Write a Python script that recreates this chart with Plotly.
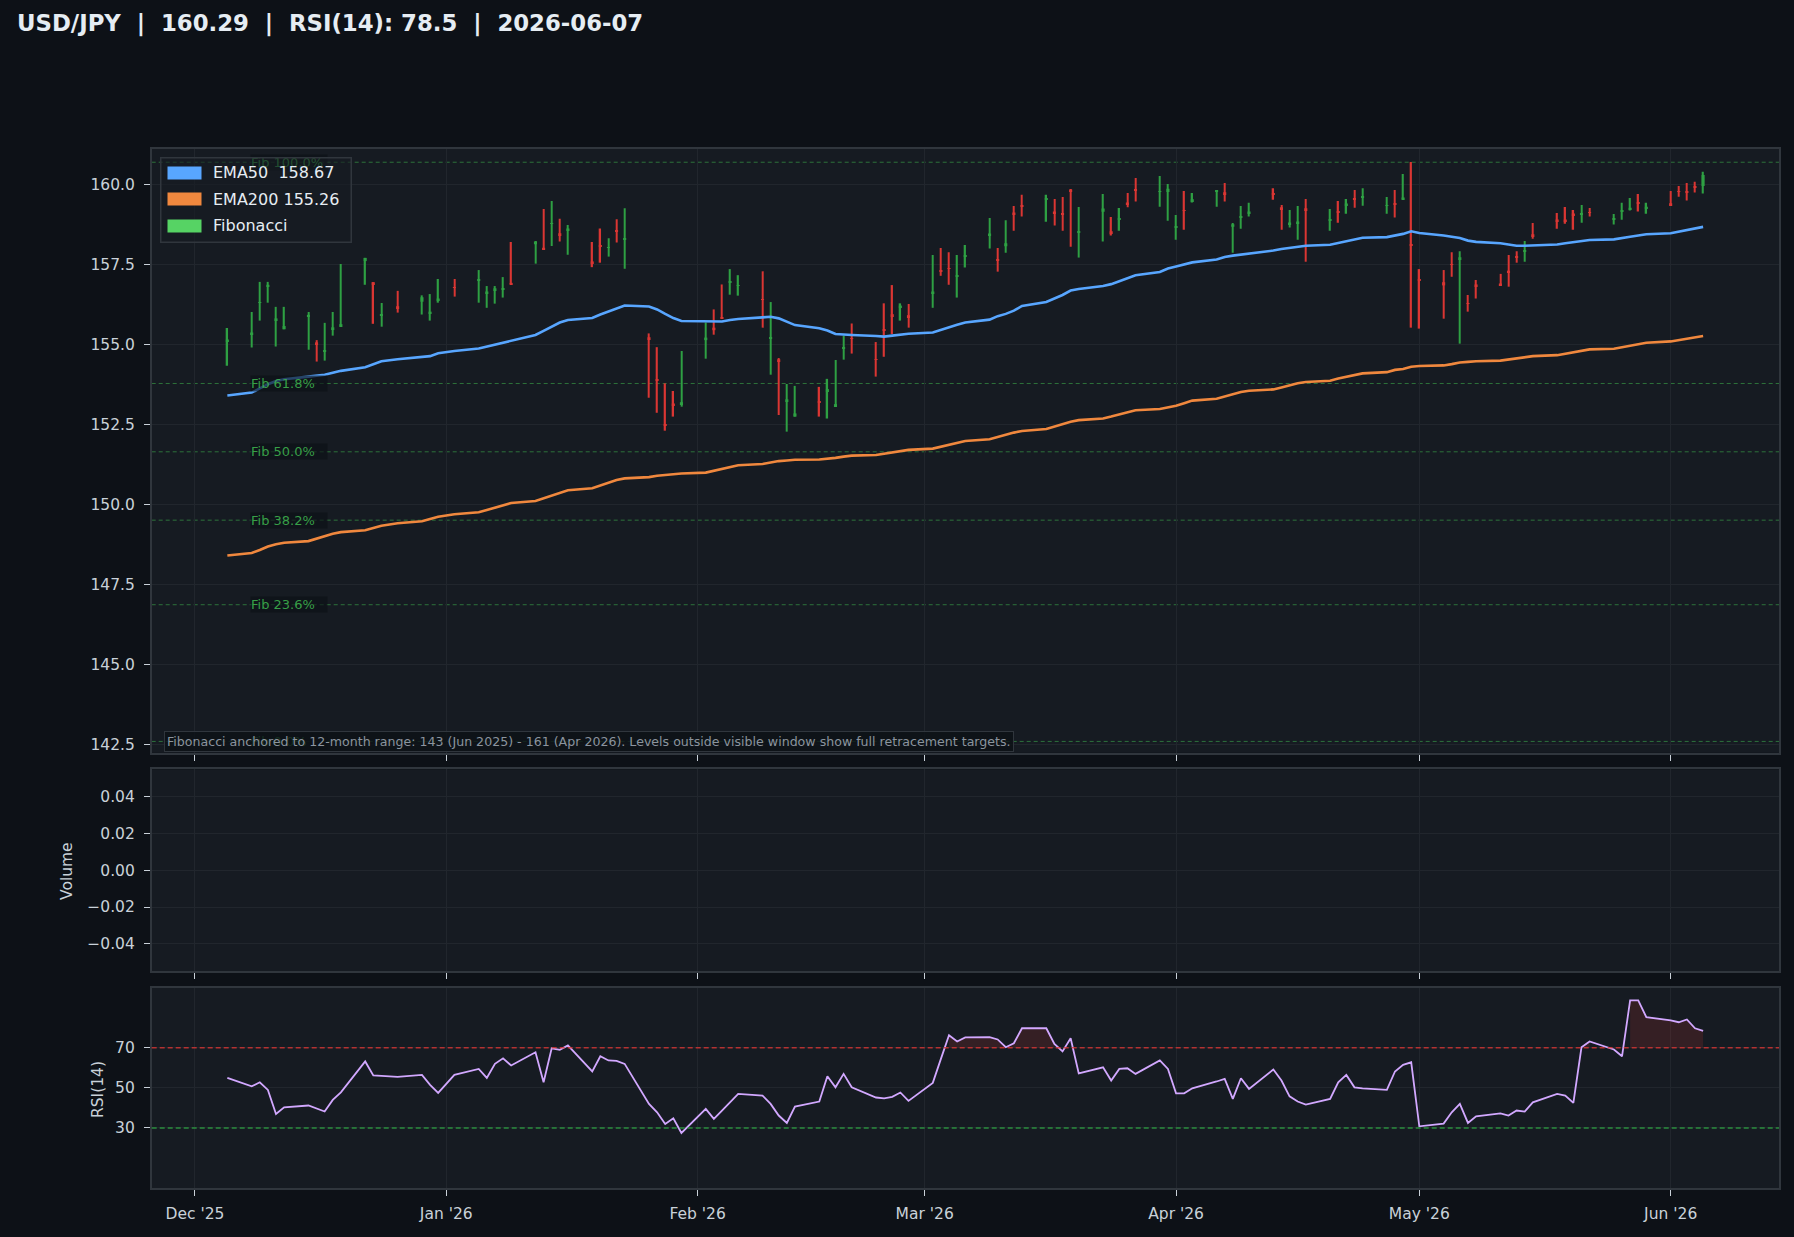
import pandas as pd
import plotly.graph_objects as go
from plotly.subplots import make_subplots

W, H = 1794, 1237
BG = "#0d1117"; PANEL = "#161b22"; GRID = "#21262d"; SPINE = "#30363d"; TXT = "#c9d1d9"
GREEN = "#2ea043"; RED = "#da3633"; BLUE = "#58a6ff"; ORANGE = "#f0883e"
FIBC = "#56d364"; PURPLE = "#d2a8ff"
FONT = "DejaVu Sans"

# ---------------- data ----------------
holidays = ["2025-12-25", "2026-01-01"]
dates = pd.bdate_range("2025-12-05", "2026-06-05")
dates = dates[~dates.isin(pd.to_datetime(holidays))]

open_ = [155.09, 155.31, 156.30, 156.80, 155.75, 155.47, 155.86, 155.06, 154.76, 155.47, 155.57, 157.60, 156.94, 155.91, 156.19, 156.33, 155.96, 156.37,
         156.78, 156.98, 156.59, 156.69, 156.70, 156.92, 158.13, 158.02, 158.76, 158.47, 158.56, 157.59, 158.09, 158.02, 158.56, 158.29, 155.22, 153.90, 152.51, 153.15, 153.13,
         155.13, 155.52, 155.84, 156.94, 156.83, 156.41, 155.18, 154.53, 153.22, 152.74, 153.21, 153.54, 153.07, 154.88, 155.19, 154.54, 155.46, 155.94, 156.15, 155.91,
         156.59, 157.32, 157.38, 157.12, 157.74, 158.40, 157.65, 158.06, 159.12, 159.34, 159.51, 159.15, 159.09, 159.84, 158.49, 159.14, 158.53, 158.90, 159.43, 159.84, 159.77, 159.76,
         158.65, 159.19, 159.47, 159.76, 159.75, 158.67, 158.96, 159.09, 159.71, 159.28, 158.75, 158.78, 159.25, 158.88, 159.15, 159.34, 159.56, 159.60, 159.33, 159.40, 159.53, 158.12,
         157.04, 156.94, 157.50, 157.66, 156.29, 156.87, 156.90, 157.30, 157.74, 157.90, 158.44, 158.90, 158.90, 159.09, 159.07, 159.13, 158.90, 159.15, 159.21, 159.43, 159.24,
         159.41, 159.79, 159.77, 159.92, 159.95]
high = [155.51, 156.01, 156.95, 156.95, 156.17, 156.17, 156.01, 155.13, 155.67, 156.01, 157.51, 157.70, 156.94, 156.29, 156.67, 156.53, 156.57, 157.04,
        157.04, 157.32, 156.82, 156.82, 157.10, 158.20, 158.23, 159.23, 159.48, 158.92, 158.73, 158.20, 158.62, 158.31, 158.91, 159.25, 155.34, 154.91, 153.78, 153.54, 154.79,
        155.68, 156.09, 156.87, 157.35, 157.16, 157.28, 156.32, 154.57, 153.76, 153.70, 153.67, 153.92, 154.51, 155.27, 155.65, 155.07, 156.28, 156.85, 156.28, 156.26,
        157.79, 158.01, 157.88, 157.79, 158.10, 158.95, 158.01, 158.88, 159.32, 159.67, 159.67, 159.54, 159.60, 159.85, 159.29, 159.70, 158.98, 159.26, 159.73, 160.20, 160.26, 160.01,
        159.04, 159.79, 159.73, 159.82, 160.04, 158.79, 159.32, 159.42, 159.88, 159.35, 159.20, 159.32, 159.54, 159.23, 159.48, 159.54, 159.82, 159.88, 159.60, 159.82, 160.32, 160.70,
        157.35, 157.32, 157.88, 157.91, 156.54, 157.01, 157.20, 157.79, 157.91, 158.23, 158.79, 159.10, 159.29, 159.20, 159.35, 159.26, 159.07, 159.42, 159.57, 159.70, 159.42,
        159.79, 159.95, 160.04, 160.08, 160.39]
low = [154.33, 154.90, 155.74, 156.30, 154.93, 155.47, 154.83, 154.46, 154.49, 155.27, 155.56, 156.86, 155.64, 155.55, 155.99, 155.93, 155.74, 156.30,
       156.49, 156.30, 156.14, 156.27, 156.46, 156.88, 157.52, 157.97, 158.07, 158.21, 157.80, 157.41, 157.55, 157.74, 158.18, 157.36, 153.33, 152.86, 152.30, 152.74, 153.05,
       154.55, 155.30, 155.80, 156.55, 156.52, 155.52, 154.05, 152.79, 152.27, 152.74, 152.74, 152.68, 153.05, 154.52, 154.71, 153.99, 154.61, 155.32, 155.74, 155.52,
       156.14, 157.14, 156.86, 156.46, 157.40, 157.99, 157.27, 157.86, 158.55, 158.99, 158.83, 158.71, 158.55, 158.05, 157.71, 158.21, 158.40, 158.55, 159.28, 159.46, 159.30, 158.86,
       158.27, 158.58, 159.43, 159.30, 159.46, 157.86, 158.61, 158.99, 159.52, 158.58, 158.65, 158.27, 157.58, 158.55, 158.80, 159.08, 159.27, 159.33, 159.08, 158.96, 159.53, 155.52,
       155.49, 155.80, 157.11, 155.02, 156.02, 156.43, 156.83, 156.80, 157.55, 157.58, 158.30, 158.61, 158.77, 158.58, 158.80, 158.99, 158.74, 158.89, 159.18, 159.15, 159.08,
       159.36, 159.61, 159.49, 159.74, 159.71]
close = [155.15, 155.37, 156.32, 156.86, 155.81, 155.57, 155.92, 155.00, 154.82, 155.53, 155.63, 157.70, 156.88, 155.93, 156.13, 156.47, 156.02, 156.43,
         156.76, 157.04, 156.65, 156.75, 156.76, 156.88, 158.21, 157.97, 158.78, 158.41, 158.62, 157.53, 158.07, 158.04, 158.54, 158.31, 155.16, 153.88, 152.45, 153.09, 153.19,
         155.21, 155.44, 155.80, 156.96, 156.85, 156.39, 155.20, 154.47, 153.28, 152.84, 153.19, 153.60, 153.13, 154.90, 155.17, 154.52, 155.44, 155.88, 156.21, 155.85,
         156.65, 157.26, 157.36, 157.14, 157.76, 158.46, 157.63, 158.16, 159.06, 159.32, 159.57, 159.09, 159.07, 159.78, 158.51, 159.24, 158.47, 158.92, 159.37, 159.82, 159.79, 159.86,
         158.67, 159.17, 159.53, 159.82, 159.69, 158.75, 158.98, 159.15, 159.69, 159.22, 158.81, 158.84, 159.19, 158.90, 159.13, 159.40, 159.54, 159.62, 159.35, 159.38, 159.59, 158.10,
         156.98, 156.84, 157.48, 157.72, 156.27, 156.81, 156.84, 157.24, 157.72, 157.92, 158.38, 158.84, 158.84, 159.03, 159.09, 159.11, 158.92, 159.17, 159.27, 159.41, 159.30,
         159.35, 159.77, 159.75, 159.90, 160.29]
ema50 = [153.40, 153.49, 153.62, 153.75, 153.85, 153.91, 153.99, 154.02, 154.05, 154.11, 154.17, 154.28, 154.38, 154.47, 154.53, 154.59, 154.63, 154.72,
         154.79, 154.87, 154.93, 154.99, 155.06, 155.13, 155.29, 155.42, 155.55, 155.68, 155.76, 155.82, 155.93, 156.03, 156.13, 156.21, 156.18, 156.09, 155.95, 155.82, 155.73,
         155.71, 155.70, 155.71, 155.76, 155.79, 155.84, 155.86, 155.81, 155.71, 155.60, 155.50, 155.43, 155.32, 155.30, 155.29, 155.26, 155.24, 155.27, 155.30, 155.33,
         155.37, 155.45, 155.55, 155.61, 155.68, 155.77, 155.88, 155.95, 156.05, 156.20, 156.32, 156.43, 156.54, 156.68, 156.73, 156.82, 156.88, 156.97, 157.06, 157.16, 157.26, 157.37,
         157.43, 157.49, 157.56, 157.65, 157.73, 157.77, 157.80, 157.84, 157.93, 157.98, 158.01, 158.04, 158.08, 158.11, 158.16, 158.22, 158.28, 158.33, 158.35, 158.40, 158.45, 158.53,
         158.48, 158.40, 158.36, 158.32, 158.24, 158.20, 158.16, 158.11, 158.08, 158.08, 158.09, 158.12, 158.16, 158.20, 158.23, 158.26, 158.28, 158.31, 158.36, 158.40, 158.44,
         158.47, 158.52, 158.57, 158.62, 158.67]
ema200 = [148.40, 148.48, 148.57, 148.68, 148.75, 148.80, 148.85, 148.93, 149.00, 149.08, 149.13, 149.19, 149.26, 149.33, 149.41, 149.47, 149.54, 149.61,
          149.69, 149.75, 149.82, 149.89, 149.97, 150.04, 150.10, 150.18, 150.26, 150.34, 150.44, 150.50, 150.59, 150.68, 150.76, 150.81, 150.85, 150.89, 150.92, 150.94, 150.96,
          150.99, 151.05, 151.12, 151.18, 151.22, 151.26, 151.31, 151.35, 151.37, 151.39, 151.40, 151.42, 151.45, 151.49, 151.52, 151.54, 151.58, 151.62, 151.67, 151.70,
          151.74, 151.80, 151.86, 151.93, 151.98, 152.03, 152.09, 152.17, 152.24, 152.29, 152.35, 152.43, 152.50, 152.58, 152.63, 152.68, 152.74, 152.80, 152.87, 152.94, 152.98, 153.02,
          153.08, 153.16, 153.24, 153.30, 153.37, 153.45, 153.51, 153.55, 153.59, 153.65, 153.72, 153.78, 153.82, 153.86, 153.93, 153.99, 154.04, 154.09, 154.13, 154.20, 154.23, 154.30,
          154.32, 154.34, 154.38, 154.43, 154.45, 154.47, 154.49, 154.52, 154.56, 154.60, 154.63, 154.66, 154.71, 154.76, 154.81, 154.84, 154.86, 154.91, 154.96, 155.01, 155.05,
          155.09, 155.13, 155.18, 155.22, 155.26]
rsi = [55.0, 50.8, 52.8, 49.0, 37.0, 40.3, 41.2, 39.8, 38.2, 44.0, 47.8, 63.2, 56.2, 56.0, 55.5, 56.5, 51.5, 47.5,
       56.5, 59.5, 55.0, 62.0, 64.8, 61.2, 67.8, 52.8, 69.8, 69.0, 71.2, 58.2, 65.8, 63.7, 63.5, 62.0, 42.0, 37.8, 32.0, 34.8, 27.5,
       39.5, 34.5, 38.7, 42.8, 47.0, 46.2, 42.0, 36.2, 32.5, 40.7, 43.2, 55.8, 50.3, 57.0, 50.3, 45.2, 44.8, 45.5, 47.7, 43.5,
       52.5, 64.5, 76.3, 73.2, 75.2, 75.3, 74.2, 70.3, 72.3, 79.8, 79.8, 72.0, 68.2, 74.8, 57.2, 60.3, 53.7, 59.5, 59.8, 57.0, 63.7, 59.5,
       47.3, 47.3, 49.8, 53.2, 54.5, 44.5, 54.8, 49.5, 59.2, 53.7, 45.8, 43.2, 41.7, 44.5, 52.8, 56.5, 50.3, 49.8, 49.0, 58.2, 61.5, 62.8,
       30.8, 32.2, 37.8, 42.0, 32.5, 35.8, 37.3, 36.2, 38.7, 38.2, 42.8, 47.0, 46.2, 42.5, 70.3, 73.2, 69.2, 65.8, 93.7, 93.7, 85.3,
       83.7, 82.8, 84.2, 79.8, 78.5]

fib_low, fib_high = 142.59, 160.69
fib_ratios = [0.0, 0.236, 0.382, 0.5, 0.618, 1.0]
rsi_levels = [70, 30]
x_range = ["2025-11-25 16:05", "2026-06-14 08:38"]
price_range = [142.234, 161.103]
as_of = "2026-06-07"

# ---------------- geometry helpers ----------------
def fx(px):
    return px / W

def fy(py):
    return 1 - py / H

X_DOM = [fx(151.7), fx(1779.0)]
MAIN_DOM = [fy(752.8), fy(149.0)]
VOL_DOM = [fy(971.3), fy(769.3)]
RSI_DOM = [fy(1188.0), fy(987.8)]
DAY_MS = 86400000

fig = make_subplots(rows=3, cols=1, shared_xaxes=True)

colors = [GREEN if c >= o else RED for o, c in zip(open_, close)]
wick_h = [h - l for h, l in zip(high, low)]
body_base = [min(o, c) for o, c in zip(open_, close)]
body_h = [abs(c - o) for o, c in zip(open_, close)]

fig.add_trace(go.Bar(x=dates, y=wick_h, base=low, width=DAY_MS * 0.17,
                     marker=dict(color=colors, line=dict(width=0)), hoverinfo="skip",
                     showlegend=False), row=1, col=1)
fig.add_trace(go.Bar(x=dates, y=body_h, base=body_base, width=DAY_MS * 0.38,
                     marker=dict(color=colors, line=dict(width=0)), hoverinfo="skip",
                     showlegend=False), row=1, col=1)
fig.add_trace(go.Scatter(x=dates, y=ema50, mode="lines", line=dict(color=BLUE, width=2.6),
                         hoverinfo="skip", showlegend=False), row=1, col=1)
fig.add_trace(go.Scatter(x=dates, y=ema200, mode="lines", line=dict(color=ORANGE, width=2.6),
                         hoverinfo="skip", showlegend=False), row=1, col=1)

# volume panel: no data
fig.add_trace(go.Scatter(x=[dates[0]], y=[None], mode="lines", hoverinfo="skip",
                         showlegend=False), row=2, col=1)

# RSI overbought fill (runs where rsi >= 70)
fill_x, fill_y = [], []
i, n = 0, len(rsi)
while i < n:
    if rsi[i] >= rsi_levels[0]:
        j = i
        while j + 1 < n and rsi[j + 1] >= rsi_levels[0]:
            j += 1
        if j > i:
            seg = list(dates[i:j + 1])
            fill_x += seg + seg[::-1] + [None]
            fill_y += rsi[i:j + 1] + [rsi_levels[0]] * (j - i + 1) + [None]
        i = j + 1
    else:
        i += 1
fig.add_trace(go.Scatter(x=fill_x, y=fill_y, mode="lines", fill="toself",
                         fillcolor="rgba(218,54,51,0.16)", line=dict(width=0),
                         hoverinfo="skip", showlegend=False), row=3, col=1)
fig.add_trace(go.Scatter(x=dates, y=rsi, mode="lines", line=dict(color=PURPLE, width=1.8),
                         hoverinfo="skip", showlegend=False), row=3, col=1)

# ---------------- shapes ----------------
shapes = []
fib_levels = [fib_low + r * (fib_high - fib_low) for r in fib_ratios]
for lv in fib_levels:
    shapes.append(dict(type="line", xref="x domain", yref="y", x0=0, x1=1, y0=lv, y1=lv,
                       line=dict(color="rgba(63,185,80,0.55)", width=1, dash="4px,3px"),
                       layer="below"))
shapes.append(dict(type="line", xref="x3 domain", yref="y3", x0=0, x1=1, y0=rsi_levels[0], y1=rsi_levels[0],
                   line=dict(color="rgba(218,54,51,0.8)", width=1.5, dash="5px,3px")))
shapes.append(dict(type="line", xref="x3 domain", yref="y3", x0=0, x1=1, y0=rsi_levels[1], y1=rsi_levels[1],
                   line=dict(color="rgba(46,160,67,0.85)", width=1.5, dash="5px,3px")))

# ---------------- annotations ----------------
ann = []
ann.append(dict(xref="paper", yref="paper", x=fx(15), y=fy(24), xanchor="left", yanchor="middle",
                text=f"<b>USD/JPY  |  {close[-1]:.2f}  |  RSI(14): {rsi[-1]:.1f}  |  {as_of}</b>",
                showarrow=False, font=dict(family=FONT, size=22.8, color="#e6edf3")))

label_x = (250 - 151.7) / (1779.0 - 151.7)
for r, lv in sorted(zip(fib_ratios, fib_levels), key=lambda t: -t[0]):
    ann.append(dict(xref="x domain", yref="y", x=label_x, y=lv, xanchor="left", yanchor="middle",
                    text=f"Fib {r*100:.1f}%", showarrow=False, align="left",
                    width=76, height=15, borderpad=0,
                    bgcolor="rgba(13,17,23,0.65)",
                    font=dict(family=FONT, size=13, color="rgba(63,185,80,0.85)")))

# legend box
ann.append(dict(xref="paper", yref="paper", x=fx(160), y=fy(157.3), xanchor="left", yanchor="top",
                text=" ", showarrow=False, width=189, height=83, borderpad=0,
                bgcolor="rgba(22,27,34,0.62)", bordercolor=SPINE, borderwidth=1.5,
                font=dict(size=8)))
leg_items = [(BLUE, f"EMA50  {ema50[-1]:.2f}"), (ORANGE, f"EMA200 {ema200[-1]:.2f}"), (FIBC, "Fibonacci")]
for k, (col, lab) in enumerate(leg_items):
    yc = 172.7 + k * 26.5
    ann.append(dict(xref="paper", yref="paper", x=fx(167.3), y=fy(yc), xanchor="left", yanchor="middle",
                    text=" ", showarrow=False, width=33, height=12, borderpad=0,
                    bgcolor=col, font=dict(size=6)))
    ann.append(dict(xref="paper", yref="paper", x=fx(211), y=fy(yc), xanchor="left", yanchor="middle",
                    text=lab, showarrow=False,
                    font=dict(family=FONT, size=16, color="#e6edf3")))

ann.append(dict(xref="paper", yref="paper", x=fx(164), y=fy(741.2), xanchor="left", yanchor="middle",
                text=f"Fibonacci anchored to 12-month range: {fib_low:.0f} (Jun 2025) - {fib_high:.0f} (Apr 2026). "
                     "Levels outside visible window show full retracement targets.",
                showarrow=False, bgcolor="rgba(13,17,23,0.8)", bordercolor=SPINE, borderwidth=1,
                borderpad=2, font=dict(family=FONT, size=12.6, color="#8b949e")))

ann.append(dict(xref="paper", yref="paper", x=fx(67), y=fy(871), xanchor="center", yanchor="middle",
                textangle=-90, showarrow=False,
                text="Volume", font=dict(family=FONT, size=15.5, color=TXT)))
ann.append(dict(xref="paper", yref="paper", x=fx(98), y=fy(1090), xanchor="center", yanchor="middle",
                textangle=-90, showarrow=False,
                text="RSI(14)", font=dict(family=FONT, size=15.5, color=TXT)))

# ---------------- axes ----------------
common_x = dict(type="date", range=x_range, domain=X_DOM, tick0="2025-12-01", dtick="M1",
                tickformat="%b '%y", ticks="outside", ticklen=6, tickwidth=1.3, tickcolor=TXT,
                showgrid=True, gridcolor=GRID, gridwidth=1, zeroline=False,
                showline=True, linecolor=SPINE, linewidth=1.5, mirror=True,
                tickfont=dict(family=FONT, size=15.5, color=TXT), ticklabelstandoff=5)
common_y = dict(ticks="outside", ticklen=6, tickwidth=1.3, tickcolor=TXT,
                showgrid=True, gridcolor=GRID, gridwidth=1, zeroline=False,
                showline=True, linecolor=SPINE, linewidth=1.5, mirror=True,
                tickfont=dict(family=FONT, size=15.5, color=TXT), ticklabelstandoff=6)

fig.update_layout(
    xaxis=dict(common_x, showticklabels=False, anchor="y"),
    xaxis2=dict(common_x, showticklabels=False, anchor="y2", matches="x"),
    xaxis3=dict(common_x, showticklabels=True, anchor="y3", matches="x"),
    yaxis=dict(common_y, domain=MAIN_DOM, range=price_range, tick0=142.5, dtick=2.5, tickformat=".1f"),
    yaxis2=dict(common_y, domain=VOL_DOM, range=[-0.055, 0.055], tickvals=[-0.04, -0.02, 0, 0.02, 0.04],
                tickformat=".2f"),
    yaxis3=dict(common_y, domain=RSI_DOM, range=[0, 100], tickvals=[30, 50, 70]),
    width=W, height=H, margin=dict(l=0, r=0, t=0, b=0),
    paper_bgcolor=BG, plot_bgcolor=PANEL, barmode="overlay", showlegend=False,
    shapes=shapes, annotations=ann, font=dict(family=FONT, color=TXT),
)

fig.write_html("out.html")
